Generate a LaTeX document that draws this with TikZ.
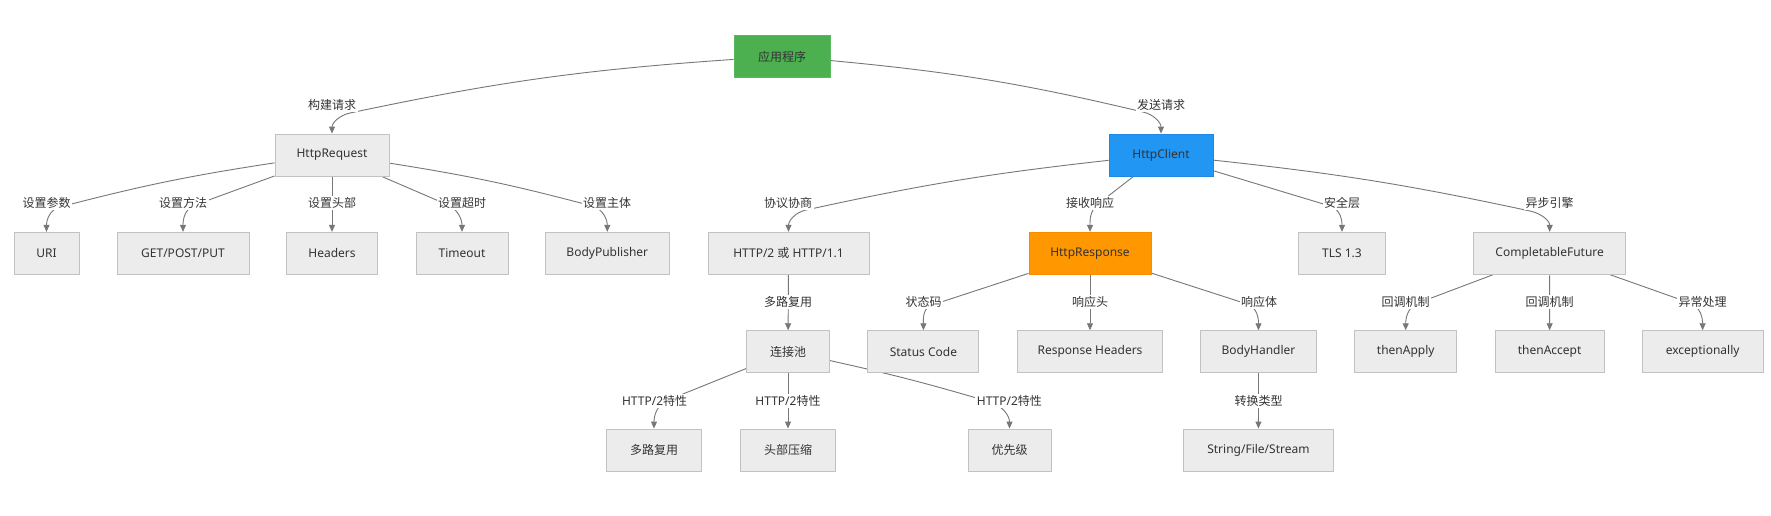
\documentclass[tikz,border=0pt]{standalone}
\usepackage{fontspec}
\setmainfont{Noto Sans}
\newfontfamily\cjk{Noto Sans CJK SC}
\usetikzlibrary{arrows.meta,backgrounds}
\definecolor{boxfill}{HTML}{ECECEC}
\definecolor{boxline}{HTML}{C2C2C2}
\definecolor{txt}{HTML}{333333}
\definecolor{edgec}{HTML}{777777}
\definecolor{appfill}{HTML}{4CAF50}
\definecolor{appline}{HTML}{5CB860}
\definecolor{clifill}{HTML}{2196F3}
\definecolor{cliline}{HTML}{1E88E5}
\definecolor{respfill}{HTML}{FF9800}
\definecolor{respline}{HTML}{FB8C00}
\begin{document}
\begin{tikzpicture}[x=1pt,y=-1pt,
  box/.style={draw=boxline, fill=boxfill, line width=0.9pt, minimum height=42pt,
    text=txt, font=\fontsize{12pt}{14pt}\selectfont, inner sep=0pt},
  lab/.style={fill=white, text=txt, font=\fontsize{12pt}{14pt}\selectfont, inner sep=1.5pt},
  edge/.style={draw=edgec, line width=0.9pt, -{Triangle[length=7pt,width=6pt]}},
]
\useasboundingbox (0,0) rectangle (1771,515);

% top
\node[box, minimum width=96pt, fill=appfill, draw=appline] (app) at (782,56.5) {\cjk 应用程序};
\node[box, minimum width=114pt] (hreq) at (332,155) {HttpRequest};
\node[box, minimum width=104pt, fill=clifill, draw=cliline] (hcli) at (1161,155) {HttpClient};

% row 2
\node[box, minimum width=65pt] (uri) at (46.5,253.3) {URI};
\node[box, minimum width=132pt] (gpp) at (183,253.3) {GET/POST/PUT};
\node[box, minimum width=91pt] (hdr) at (332,253.3) {Headers};
\node[box, minimum width=92pt] (tmo) at (462,253.3) {Timeout};
\node[box, minimum width=124pt] (bpub) at (607.3,253.3) {BodyPublisher};
\node[box, minimum width=161pt] (hver) at (788.5,253.3) {HTTP/2 {\cjk 或} HTTP/1.1};
\node[box, minimum width=122pt, fill=respfill, draw=respline] (hresp) at (1090,253.3) {HttpResponse};
\node[box, minimum width=87pt] (tls) at (1342,253.3) {TLS 1.3};
\node[box, minimum width=152pt] (cf) at (1549.7,253.3) {CompletableFuture};

% row 3
\node[box, minimum width=83pt] (pool) at (788,351.7) {\cjk 连接池};
\node[box, minimum width=111pt] (sc) at (923.4,351.7) {Status Code};
\node[box, minimum width=145pt] (rh) at (1090,351.7) {Response Headers};
\node[box, minimum width=116pt] (bh) at (1258.5,351.7) {BodyHandler};
\node[box, minimum width=102pt] (ta) at (1405.7,351.7) {thenApply};
\node[box, minimum width=109pt] (tac) at (1549.6,351.7) {thenAccept};
\node[box, minimum width=121pt] (exc) at (1702.6,351.7) {exceptionally};

% row 4
\node[box, minimum width=95pt] (mux) at (654,450) {\cjk 多路复用};
\node[box, minimum width=95pt] (hc) at (788,450) {\cjk 头部压缩};
\node[box, minimum width=83pt] (pri) at (1009.5,450) {\cjk 优先级};
\node[box, minimum width=150pt] (sfs) at (1258.4,450) {String/File/Stream};

% labels
\node[lab] (l1) at (332,105.3) {\cjk 构建请求};
\node[lab] (l2) at (1161,105.3) {\cjk 发送请求};
\node[lab] (l3) at (46.5,203.3) {\cjk 设置参数};
\node[lab] (l4) at (183,203.3) {\cjk 设置方法};
\node[lab] (l5) at (332,203.3) {\cjk 设置头部};
\node[lab] (l6) at (462,203.3) {\cjk 设置超时};
\node[lab] (l7) at (607,203.3) {\cjk 设置主体};
\node[lab] (l8) at (788,203.3) {\cjk 协议协商};
\node[lab] (l9) at (1090,203.3) {\cjk 接收响应};
\node[lab] (l10) at (1342,203.3) {\cjk 安全层};
\node[lab] (l11) at (1549.5,203.3) {\cjk 异步引擎};
\node[lab] (l12) at (788,302.3) {\cjk 多路复用};
\node[lab] (l13) at (923.5,302.3) {\cjk 状态码};
\node[lab] (l14) at (1090,302.3) {\cjk 响应头};
\node[lab] (l15) at (1259,302.3) {\cjk 响应体};
\node[lab] (l16) at (1405.7,302.3) {\cjk 回调机制};
\node[lab] (l17) at (1549.6,302.3) {\cjk 回调机制};
\node[lab] (l18) at (1702.5,302.3) {\cjk 异常处理};
\node[lab] (l19) at (654.6,400.7) {HTTP/2{\cjk 特性}};
\node[lab] (l20) at (788,400.7) {HTTP/2{\cjk 特性}};
\node[lab] (l21) at (1009.4,400.7) {HTTP/2{\cjk 特性}};
\node[lab] (l22) at (1258.5,400.7) {\cjk 转换类型};

\begin{pgfonlayer}{background}
\fill[white] (0,0) rectangle (1771,515);
\draw[edge] (app) to[bend right=4] (350,113) to[out=192,in=90] (hreq);
\draw[edge] (app) to[bend left=4] (1143,112) to[out=347.5,in=90] (hcli);
\draw[edge] (hreq) to[bend right=3] (60,207) to[out=193.5,in=90] (uri);
\draw[edge] (hreq) -- (195,205) to[out=200,in=90] (gpp);
\draw[edge] (hreq) -- (hdr);
\draw[edge] (hreq) -- (448,205) to[out=334,in=90] (tmo);
\draw[edge] (hreq) to[bend left=3] (592,206) to[out=346,in=90] (bpub);
\draw[edge] (hcli) to[bend right=3] (806,210) to[out=191.8,in=90] (hver);
\draw[edge] (hcli) -- (1098,204) to[out=221,in=90] (hresp);
\draw[edge] (hcli) -- (1330,206) to[out=343,in=90] (tls);
\draw[edge] (hcli) to[bend left=3] (1530,211) to[out=348,in=90] (cf);
\draw[edge] (hver) -- (pool);
\draw[edge] (hresp) -- (932,305) to[out=198.8,in=90] (sc);
\draw[edge] (hresp) -- (rh);
\draw[edge] (hresp) -- (1247,304) to[out=341,in=90] (bh);
\draw[edge] (cf) -- (1418,303) to[out=202.5,in=90] (ta);
\draw[edge] (cf) -- (tac);
\draw[edge] (cf) -- (1690,303) to[out=339,in=90] (exc);
\draw[edge] (pool) -- (668,400) to[out=203,in=90] (mux);
\draw[edge] (pool) -- (hc);
\draw[edge] (pool) to[bend left=2] (990,402) to[out=343.7,in=90] (pri);
\draw[edge] (bh) -- (sfs);
\end{pgfonlayer}
\end{tikzpicture}
\end{document}
